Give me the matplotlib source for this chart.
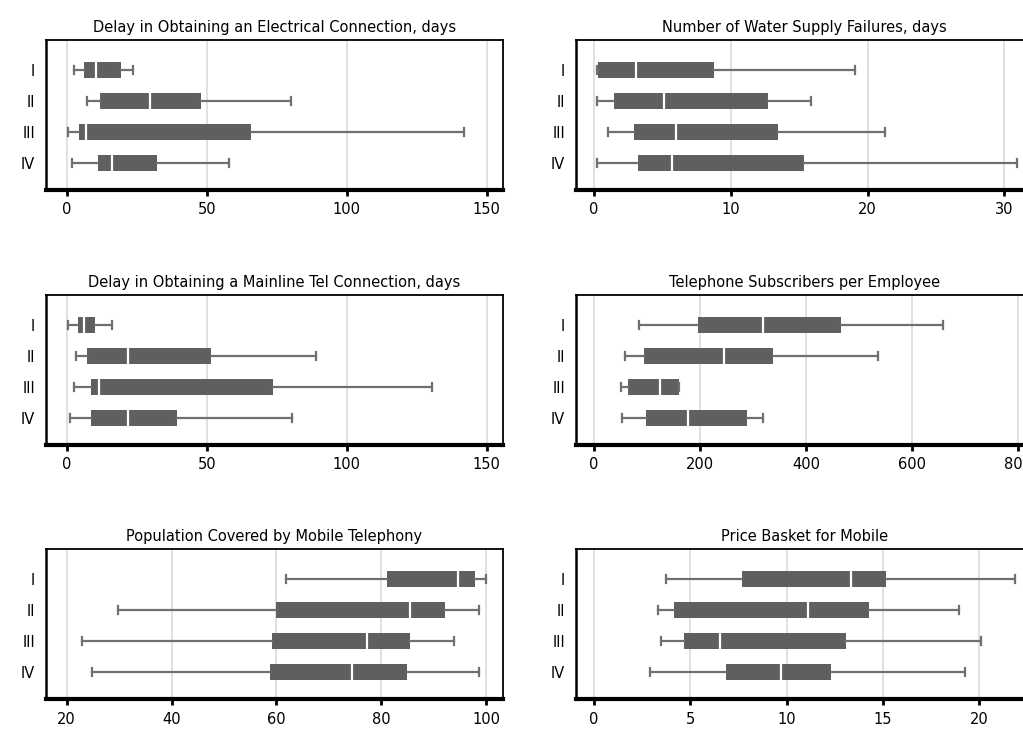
import matplotlib
matplotlib.use("Agg")
import matplotlib.pyplot as plt

groups = ["I", "II", "III", "IV"]

# five-number summaries per group: whisker low, q1, median, q3, whisker high
elec_lo = [2.6, 7.1, 0.6, 1.8]
elec_q1 = [6.0, 11.9, 4.5, 11.0]
elec_med = [10.5, 29.8, 6.9, 16.0]
elec_q3 = [19.3, 47.9, 65.7, 32.1]
elec_hi = [23.6, 80.0, 142.0, 57.9]

water_lo = [0.25, 0.2, 1.05, 0.2]
water_q1 = [0.3, 1.44, 2.93, 3.2]
water_med = [3.06, 5.1, 6.0, 5.7]
water_q3 = [8.75, 12.7, 13.45, 15.35]
water_hi = [19.1, 15.9, 21.3, 30.9]

tel_lo = [0.4, 3.3, 2.6, 1.0]
tel_q1 = [3.9, 7.4, 8.8, 8.8]
tel_med = [6.0, 21.8, 11.7, 21.9]
tel_q3 = [10.0, 51.4, 73.8, 39.3]
tel_hi = [16.3, 89.0, 130.6, 80.6]

subs_lo = [84, 58, 50, 53]
subs_q1 = [196, 94, 64, 98]
subs_med = [318, 246, 125, 177]
subs_q3 = [466, 338, 161, 289]
subs_hi = [658, 536, 161, 318]

cover_lo = [61.8, 29.8, 22.9, 24.8]
cover_q1 = [81.1, 59.9, 59.1, 58.7]
cover_med = [94.6, 85.5, 77.3, 74.5]
cover_q3 = [97.8, 92.1, 85.5, 84.8]
cover_hi = [100.0, 98.7, 93.8, 98.6]

price_lo = [3.76, 3.34, 3.45, 2.93]
price_q1 = [7.67, 4.16, 4.66, 6.84]
price_med = [13.33, 11.13, 6.56, 9.71]
price_q3 = [15.15, 14.3, 13.07, 12.33]
price_hi = [21.87, 18.96, 20.1, 19.27]

panels = [
    ("Delay in Obtaining an Electrical Connection, days",
     (elec_lo, elec_q1, elec_med, elec_q3, elec_hi), (-7.4, 155.8), [0, 50, 100, 150]),
    ("Number of Water Supply Failures, days",
     (water_lo, water_q1, water_med, water_q3, water_hi), (-1.32, 32.1), [0, 10, 20, 30]),
    ("Delay in Obtaining a Mainline Tel Connection, days",
     (tel_lo, tel_q1, tel_med, tel_q3, tel_hi), (-7.4, 155.8), [0, 50, 100, 150]),
    ("Telephone Subscribers per Employee",
     (subs_lo, subs_q1, subs_med, subs_q3, subs_hi), (-34, 828), [0, 200, 400, 600, 800]),
    ("Population Covered by Mobile Telephony",
     (cover_lo, cover_q1, cover_med, cover_q3, cover_hi), (16.06, 103.2), [20, 40, 60, 80, 100]),
    ("Price Basket for Mobile",
     (price_lo, price_q1, price_med, price_q3, price_hi), (-0.94, 22.8), [0, 5, 10, 15, 20]),
]

W, H = 1023, 729
fig = plt.figure(figsize=(W / 100, H / 100), dpi=100)

# the right-hand column runs a little past the figure edge
col_left = [46, 576]
row_top = [40, 295, 549]
ax_w, ax_h = 457, 150

box_col = "#5f5f5f"
whisk_col = "#707070"

for i, (title, stats, xlim, ticks) in enumerate(panels):
    r, c = divmod(i, 2)
    x0 = col_left[c] / W
    y0 = 1 - (row_top[r] + ax_h) / H
    ax = fig.add_axes([x0, y0, ax_w / W, ax_h / H])

    lo, q1, med, q3, hi = stats
    bstats = [dict(whislo=lo[k], q1=q1[k], med=med[k], q3=q3[k], whishi=hi[k],
                   fliers=[], label=groups[k]) for k in range(len(groups))]
    ax.bxp(bstats, positions=range(1, 5), widths=0.52, capwidths=0.27,
           orientation="horizontal", patch_artist=True, showfliers=False,
           boxprops=dict(facecolor=box_col, edgecolor=box_col, linewidth=0),
           medianprops=dict(color="white", linewidth=1.6),
           whiskerprops=dict(color=whisk_col, linewidth=1.6),
           capprops=dict(color=whisk_col, linewidth=1.6),
           zorder=3)

    ax.set_xlim(*xlim)
    ax.set_ylim(4.87, 0.03)
    ax.set_xticks(ticks)
    ax.set_xticklabels([str(t) for t in ticks])
    ax.set_yticks(range(1, 5))
    ax.set_yticklabels(groups)
    ax.xaxis.grid(True, color="#dcdcdc", linewidth=1.2, zorder=0)
    ax.set_axisbelow(True)

    ax.tick_params(axis="x", direction="out", length=4, width=2, colors="black",
                   labelsize=10.5, pad=5)
    ax.tick_params(axis="y", length=0, labelsize=10.5, pad=8)
    for side in ("top", "right"):
        ax.spines[side].set_linewidth(1.3)
    ax.spines["left"].set_linewidth(1.8)
    ax.spines["bottom"].set_linewidth(3)

    ax.set_title(title, fontsize=10.5, pad=6)

fig.savefig("out.png", dpi=100)
